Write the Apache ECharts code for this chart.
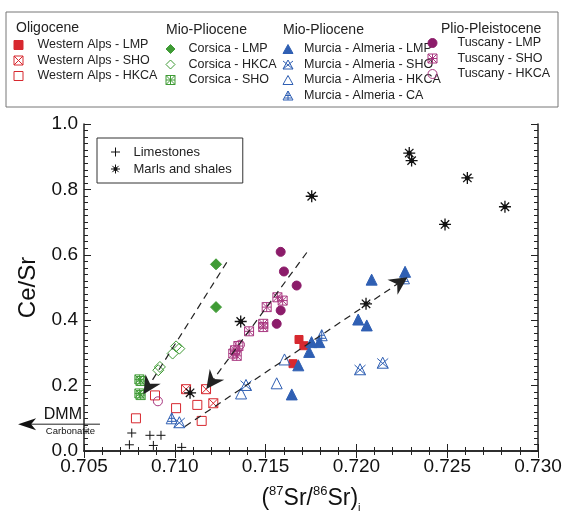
<!DOCTYPE html>
<html><head><meta charset="utf-8">
<script src="https://cdn.jsdelivr.net/npm/echarts@6/dist/echarts.min.js"></script>
<style>html,body{margin:0;padding:0;background:#fff}#c{width:566px;height:518px}</style>
</head><body><div id="c"></div>
<script>
// ---------- data (x = (87Sr/86Sr)i, y = Ce/Sr) ----------
const xTickLabels = ['0.705', '0.710', '0.715', '0.720', '0.725', '0.730'];
const yTickLabels = ['0.0', '0.2', '0.4', '0.6', '0.8', '1.0'];

const westernAlpsLMP  = [[0.71684, 0.341], [0.71711, 0.322], [0.71651, 0.267]];
const westernAlpsSHO  = [[0.71062, 0.189], [0.71172, 0.189], [0.71212, 0.146]];
const westernAlpsHKCA = [[0.70786, 0.100], [0.71007, 0.131], [0.71124, 0.141], [0.71148, 0.092], [0.70891, 0.170]];
const corsicaLMP  = [[0.71227, 0.571], [0.71227, 0.440]];
const corsicaHKCA = [[0.71007, 0.320], [0.71025, 0.313], [0.70988, 0.298], [0.70918, 0.257], [0.70909, 0.247]];
const corsicaSHO  = [[0.70805, 0.219], [0.70812, 0.214], [0.70805, 0.176], [0.70812, 0.171]];
const murciaLMP  = [[0.71680, 0.262], [0.71644, 0.173], [0.71740, 0.303], [0.71753, 0.333], [0.71796, 0.333],
                    [0.72084, 0.524], [0.72010, 0.402], [0.72057, 0.384], [0.72268, 0.548]];
const murciaSHO  = [[0.71025, 0.088], [0.71392, 0.202], [0.72020, 0.250], [0.72145, 0.270]];
const murciaHKCA = [[0.71365, 0.176], [0.71561, 0.207], [0.71604, 0.280]];
const murciaCA   = [[0.70983, 0.100], [0.71809, 0.354], [0.72262, 0.528]];
const tuscanyLMP  = [[0.71583, 0.609], [0.71601, 0.549], [0.71671, 0.506], [0.71583, 0.430], [0.71561, 0.389]];
const tuscanySHO  = [[0.71565, 0.470], [0.71594, 0.460], [0.71506, 0.440], [0.71487, 0.389], [0.71487, 0.379],
                     [0.71409, 0.366], [0.71350, 0.321], [0.71332, 0.308], [0.71322, 0.298], [0.71341, 0.291]];
const tuscanyHKCA = [[0.71359, 0.325], [0.70907, 0.152]];
const limestones = [[0.70763, 0.055], [0.70863, 0.048], [0.70924, 0.048], [0.70750, 0.019], [0.70882, 0.017], [0.71038, 0.011]];
const marlsShales = [[0.71084, 0.178], [0.71363, 0.396], [0.71754, 0.779], [0.72053, 0.450], [0.72291, 0.911],
                     [0.72304, 0.888], [0.72611, 0.835], [0.72818, 0.747], [0.72488, 0.693]];

// trend arrows: [from, to]
const trendCorsica = [[0.71286, 0.577], [0.70854, 0.197]];
const trendTuscany = [[0.71727, 0.607], [0.71203, 0.212]];
const trendMurcia  = [[0.71056, 0.075], [0.72240, 0.516]];
// DMM / Carbonatite arrow (x from, x to, y)
const dmmArrowX = [0.70137, 0.70588];
const dmmArrowY = 0.082;

// ---------- styling ----------
const FONT = 'Arial, "Liberation Sans", Helvetica, sans-serif';
const RED = '#d7282f', GREEN = '#3f9b35', BLUE = '#2f5fb3', MAG = '#8c1c6a', MAG2 = '#a8367f';
const CLEAR = 'rgba(0,0,0,0)';
const SYM = {
  rect: 'path://M0,0H10V10H0Z',
  diamond: 'path://M5,0L10,5L5,10L0,5Z',
  triangle: 'path://M5,0L10,9H0Z',
  circle: 'path://M5,0A5,5 0 1 1 4.99,0Z',
  sqx: 'path://M0,0H10V10H0Z M0,0L10,10 M10,0L0,10',
  sqhatch: 'path://M0,0H10V10H0Z M0,0L10,10 M10,0L0,10 M5,0V10 M0,5H10',
  trix: 'path://M5,0L10,9H0Z M0,1L10,9 M10,1L0,9',
  trica: 'path://M5,0L10,9H0Z M2.5,4.5H7.5 M1.2,7H8.8 M5,0V9',
  plus: 'path://M5,0V10 M0,5H10',
  star: 'path://M5,0V10 M0,5H10 M1.5,1.5L8.5,8.5 M8.5,1.5L1.5,8.5 M3.6,3.6H6.4V6.4H3.6Z',
  arrow: 'path://M8,0L15,16L8,11L1,16Z'
};

function sc(name, data, symbol, size, color, filled, bw) {
  return {
    type: 'scatter', name, data, symbol, symbolSize: size,
    itemStyle: { color: filled ? color : CLEAR, borderColor: color, borderWidth: bw || 1, opacity: 1 },
    emphasis: { disabled: true }, silent: true
  };
}

function trend(seg) {
  return [{ coord: seg[0] }, { coord: seg[1] }];
}

const series = [
  sc('Western Alps - LMP', westernAlpsLMP, SYM.rect, 8, RED, true),
  sc('Western Alps - SHO', westernAlpsSHO, SYM.sqx, 9, RED, false),
  sc('Western Alps - HKCA', westernAlpsHKCA, SYM.rect, 9, RED, false),
  sc('Corsica - LMP', corsicaLMP, SYM.diamond, 11, GREEN, true),
  sc('Corsica - HKCA', corsicaHKCA, SYM.diamond, 11, GREEN, false),
  sc('Corsica - SHO', corsicaSHO, SYM.sqhatch, 9, GREEN, false),
  sc('Murcia - Almeria - LMP', murciaLMP, SYM.triangle, 11, BLUE, true),
  sc('Murcia - Almeria - SHO', murciaSHO, SYM.trix, 11, BLUE, false),
  sc('Murcia - Almeria - HKCA', murciaHKCA, SYM.triangle, 11, BLUE, false),
  sc('Murcia - Almeria - CA', murciaCA, SYM.trica, 11, BLUE, false),
  sc('Tuscany - LMP', tuscanyLMP, SYM.circle, 9, MAG, true),
  sc('Tuscany - SHO', tuscanySHO, SYM.sqhatch, 9, MAG2, false),
  sc('Tuscany - HKCA', tuscanyHKCA, SYM.circle, 9, MAG2, false),
  sc('Limestones', limestones, SYM.plus, 9, '#111', false),
  sc('Marls and shales', marlsShales, SYM.star, 12, '#111', true, 1.3)
];
series[13].markLine = {
  silent: true, animation: false,
  symbol: ['none', SYM.arrow], symbolSize: 18,
  label: { show: false },
  lineStyle: { type: [7, 5], color: '#222', width: 1.2 },
  itemStyle: { color: '#111' },
  emphasis: { disabled: true },
  data: [trend(trendCorsica), trend(trendTuscany), trend(trendMurcia)]
};

function legend(names, left, top, itemWidth) {
  return {
    data: names, left, top, orient: 'vertical', padding: 0,
    itemWidth, itemHeight: 9, itemGap: 1.5, selectedMode: false,
    itemStyle: { borderWidth: 1 },
    textStyle: { fontFamily: FONT, fontSize: 12.5, lineHeight: 14, color: '#222' }
  };
}

const titleStyle = (x, y, text) => ({
  type: 'text', left: x, top: y - 9, silent: true,
  style: { text, fontFamily: FONT, fontSize: 14, fill: '#222' }
});

const baseGraphic = [
  { type: 'rect', silent: true, shape: { x: 6, y: 12, width: 552, height: 95 },
    style: { fill: 'none', stroke: '#777', lineWidth: 1 } },
  titleStyle(16, 30, 'Oligocene'),
  titleStyle(166, 32, 'Mio-Pliocene'),
  titleStyle(283, 32, 'Mio-Pliocene'),
  titleStyle(441, 31, 'Plio-Pleistocene')
];

const axisLineStyle = { lineStyle: { color: '#222', width: 1.5 } };
const option = {
  animation: false,
  backgroundColor: '#fff',
  grid: { left: 84, top: 124, right: 28, bottom: 65 },
  legend: [
    legend(['Western Alps - LMP', 'Western Alps - SHO', 'Western Alps - HKCA'], 13.5, 38, 28),
    legend(['Corsica - LMP', 'Corsica - HKCA', 'Corsica - SHO'], 165.5, 42, 26),
    legend(['Murcia - Almeria - LMP', 'Murcia - Almeria - SHO', 'Murcia - Almeria - HKCA', 'Murcia - Almeria - CA'], 282.5, 42, 22),
    legend(['Tuscany - LMP', 'Tuscany - SHO', 'Tuscany - HKCA'], 427.5, 36, 40),
    Object.assign(legend(['Limestones', 'Marls and shales'], 97, 138, 26), {
      padding: [7, 11, 7, 13.5], itemGap: 3, borderColor: '#333', borderWidth: 1,
      textStyle: { fontFamily: FONT, fontSize: 13, lineHeight: 14, color: '#222' }
    })
  ],
  xAxis: [{
    type: 'value', min: 0.705, max: 0.730, interval: 0.005, position: 'bottom',
    axisLine: axisLineStyle,
    axisTick: { inside: true, length: 7, lineStyle: { color: '#222' } },
    minorTick: { show: true, splitNumber: 5, length: 4, lineStyle: { color: '#222' } },
    splitLine: { show: false },
    axisLabel: { margin: 6, fontFamily: FONT, fontSize: 19, color: '#111',
      formatter: (v, i) => xTickLabels[i] },
    name: '{a|(}{sup|87}{a|Sr/}{sup|86}{a|Sr)}{sub|i}',
    nameLocation: 'middle', nameGap: 34,
    nameTextStyle: {
      fontFamily: FONT, color: '#111',
      rich: {
        a: { fontFamily: FONT, fontSize: 23, lineHeight: 28, color: '#111' },
        sup: { fontFamily: FONT, fontSize: 13, lineHeight: 13, verticalAlign: 'top', color: '#111' },
        sub: { fontFamily: FONT, fontSize: 11, lineHeight: 11, verticalAlign: 'bottom', color: '#111' }
      }
    }
  }, {
    type: 'value', min: 0.705, max: 0.730, interval: 0.005, position: 'top',
    axisLine: axisLineStyle,
    axisTick: { inside: true, length: 7, lineStyle: { color: '#222' } },
    minorTick: { show: true, splitNumber: 5, length: 4, lineStyle: { color: '#222' } },
    splitLine: { show: false }, axisLabel: { show: false }
  }],
  yAxis: [{
    type: 'value', min: 0, max: 1, interval: 0.2, position: 'left',
    axisLine: axisLineStyle,
    axisTick: { inside: true, length: 7, lineStyle: { color: '#222' } },
    minorTick: { show: true, splitNumber: 10, length: 4, lineStyle: { color: '#222' } },
    splitLine: { show: false },
    axisLabel: { margin: 6, fontFamily: FONT, fontSize: 19, color: '#111',
      formatter: (v, i) => yTickLabels[i] },
    name: 'Ce/Sr', nameLocation: 'middle', nameGap: 40,
    nameTextStyle: { fontFamily: FONT, fontSize: 24, color: '#111' }
  }, {
    type: 'value', min: 0, max: 1, interval: 0.2, position: 'right',
    axisLine: axisLineStyle,
    axisTick: { inside: true, length: 7, lineStyle: { color: '#222' } },
    minorTick: { show: true, splitNumber: 10, length: 4, lineStyle: { color: '#222' } },
    splitLine: { show: false }, axisLabel: { show: false }
  }],
  series,
  graphic: baseGraphic
};

const chart = echarts.init(document.getElementById('c'), null, { renderer: 'canvas' });
chart.setOption(option);

// DMM / Carbonatite annotation placed through the axes
const p0 = chart.convertToPixel({ xAxisIndex: 0, yAxisIndex: 0 }, [dmmArrowX[0], dmmArrowY]);
const p1 = chart.convertToPixel({ xAxisIndex: 0, yAxisIndex: 0 }, [dmmArrowX[1], dmmArrowY]);
const dmmGraphic = [
  { type: 'line', silent: true, shape: { x1: p0[0] + 10, y1: p0[1], x2: p1[0], y2: p1[1] },
    style: { stroke: '#222', lineWidth: 1 } },
  { type: 'polygon', silent: true,
    shape: { points: [[p0[0], p0[1]], [p0[0] + 18, p0[1] - 6], [p0[0] + 13, p0[1]], [p0[0] + 18, p0[1] + 6]] },
    style: { fill: '#111' } },
  { type: 'text', silent: true, x: p1[0] - 18, y: p1[1] - 2,
    style: { text: 'DMM', fontFamily: FONT, fontSize: 16, fill: '#111', align: 'right', verticalAlign: 'bottom' } },
  { type: 'text', silent: true, x: p1[0] - 5, y: p1[1] + 2,
    style: { text: 'Carbonatite', fontFamily: FONT, fontSize: 9.5, fill: '#111', align: 'right', verticalAlign: 'top' } }
];
chart.setOption({ graphic: baseGraphic.concat(dmmGraphic) });
</script>
</body></html>
